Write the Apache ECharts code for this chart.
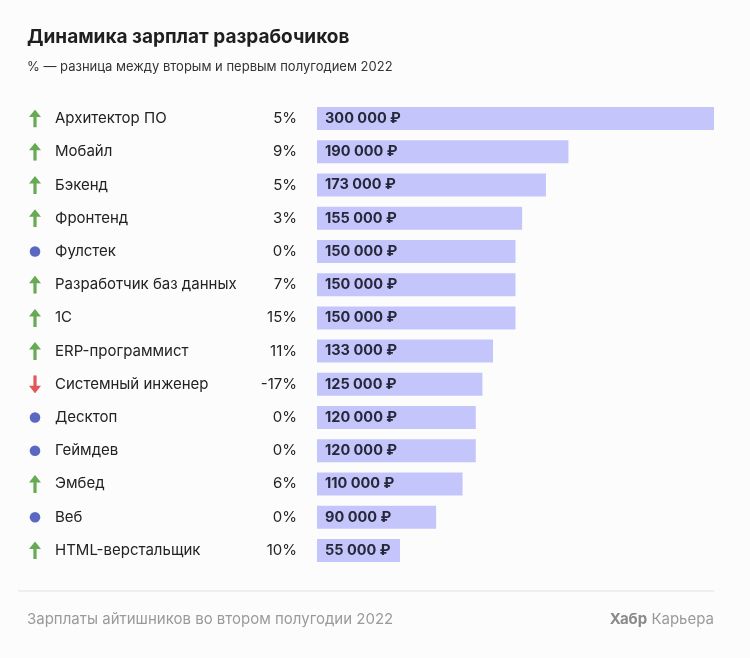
<!DOCTYPE html>
<html>
<head>
<meta charset="utf-8">
<script src="https://cdn.jsdelivr.net/npm/echarts@6/dist/echarts.min.js"></script>
<style>
html,body{margin:0;padding:0;background:#fcfcfc;}
#chart{width:750px;height:658px;}
</style>
</head>
<body>
<div id="chart"></div>
<script>
const categories = ['Архитектор ПО','Мобайл','Бэкенд','Фронтенд','Фулстек','Разработчик баз данных','1С','ERP-программист','Системный инженер','Десктоп','Геймдев','Эмбед','Веб','HTML-верстальщик'];
const salaries = [300000,190000,173000,155000,150000,150000,150000,133000,125000,120000,120000,110000,90000,55000];
const changes = [5,9,5,3,0,7,15,11,-17,0,0,6,0,10];
const xTicks = [0, 300000];

const FONT = 'Inter, "Noto Sans", sans-serif';
function svgUri(s){ return 'data:image/svg+xml;charset=utf-8,' + encodeURIComponent(s); }
const upImg = svgUri('<svg xmlns="http://www.w3.org/2000/svg" width="12" height="18" viewBox="0 0 12 18"><path d="M6 0 L12 7.5 L7.6 7.5 L7.6 18 L4.4 18 L4.4 7.5 L0 7.5 Z" fill="#67a954"/></svg>');
const downImg = svgUri('<svg xmlns="http://www.w3.org/2000/svg" width="12" height="18" viewBox="0 0 12 18"><path d="M6 18 L12 10.5 L7.6 10.5 L7.6 0 L4.4 0 L4.4 10.5 L0 10.5 Z" fill="#e0585a"/></svg>');
const dotImg = svgUri('<svg xmlns="http://www.w3.org/2000/svg" width="12" height="18" viewBox="0 0 12 18"><circle cx="6" cy="9" r="5.3" fill="#5b68c2"/></svg>');

const chart = echarts.init(document.getElementById('chart'));
const fmtNum = v => String(v).replace(/\B(?=(\d{3})+(?!\d))/g, ' ') + ' ₽';

chart.setOption({
  backgroundColor: '#fcfcfc',
  animation: false,
  title: [
    {text: 'Динамика зарплат разрабочиков', left: 27, top: 28, padding: 0,
     textStyle: {fontFamily: FONT, fontSize: 19, fontWeight: 'bold', color: '#1f1f1f'}},
    {text: '% — разница между вторым и первым полугодием 2022', left: 27, top: 61, padding: 0,
     textStyle: {fontFamily: FONT, fontSize: 13, fontWeight: 'normal', color: '#333'}},
    {text: 'Зарплаты айтишников во втором полугодии 2022', left: 27, top: 612, padding: 0,
     textStyle: {fontFamily: FONT, fontSize: 15, fontWeight: 'normal', color: '#9a9a9a'}},
    {text: '{b|Хабр} Карьера', right: 36, top: 612, padding: 0,
     textStyle: {fontFamily: FONT, fontSize: 15, fontWeight: 'normal', color: '#9a9a9a',
       rich: {b: {fontFamily: FONT, fontSize: 15, fontWeight: 'bold', color: '#8a8a8a'}}}}
  ],
  graphic: [{type: 'line', shape: {x1: 18, y1: 591, x2: 714, y2: 591}, style: {stroke: '#e2e2e2', lineWidth: 1}}],
  grid: {left: 317, right: 36, top: 102, height: 465, containLabel: false},
  xAxis: {type: 'value', min: xTicks[0], max: xTicks[1], show: false},
  yAxis: [
    {type: 'category', inverse: true, data: categories,
     axisLine: {show: false}, axisTick: {show: false}, splitLine: {show: false},
     axisLabel: {
       align: 'left', margin: 288,
       formatter: (v, i) => {
         const c = changes[i];
         const ic = c > 0 ? 'up' : (c < 0 ? 'down' : 'dot');
         return '{' + ic + '|}{n|' + v + '}';
       },
       rich: {
         up: {width: 12, height: 18, backgroundColor: {image: upImg}},
         down: {width: 12, height: 18, backgroundColor: {image: downImg}},
         dot: {width: 12, height: 18, backgroundColor: {image: dotImg}},
         n: {fontFamily: FONT, fontSize: 15, color: '#222', padding: [0, 0, 0, 14]}
       }
     }},
    {type: 'category', inverse: true, position: 'left', data: changes.map(c => c + '%'),
     axisLine: {show: false}, axisTick: {show: false}, splitLine: {show: false},
     axisLabel: {margin: 20, fontFamily: FONT, fontSize: 15, color: '#222'}}
  ],
  series: [{
    type: 'bar', yAxisIndex: 0, data: salaries, barWidth: 23, barMinHeight: 83,
    itemStyle: {color: '#c4c6fb'},
    label: {show: true, position: 'insideLeft', distance: 8, formatter: p => fmtNum(p.value),
      fontFamily: FONT, fontSize: 14.5, fontWeight: 'bold', color: '#27273a'},
    silent: true
  }]
});
</script>
</body>
</html>
